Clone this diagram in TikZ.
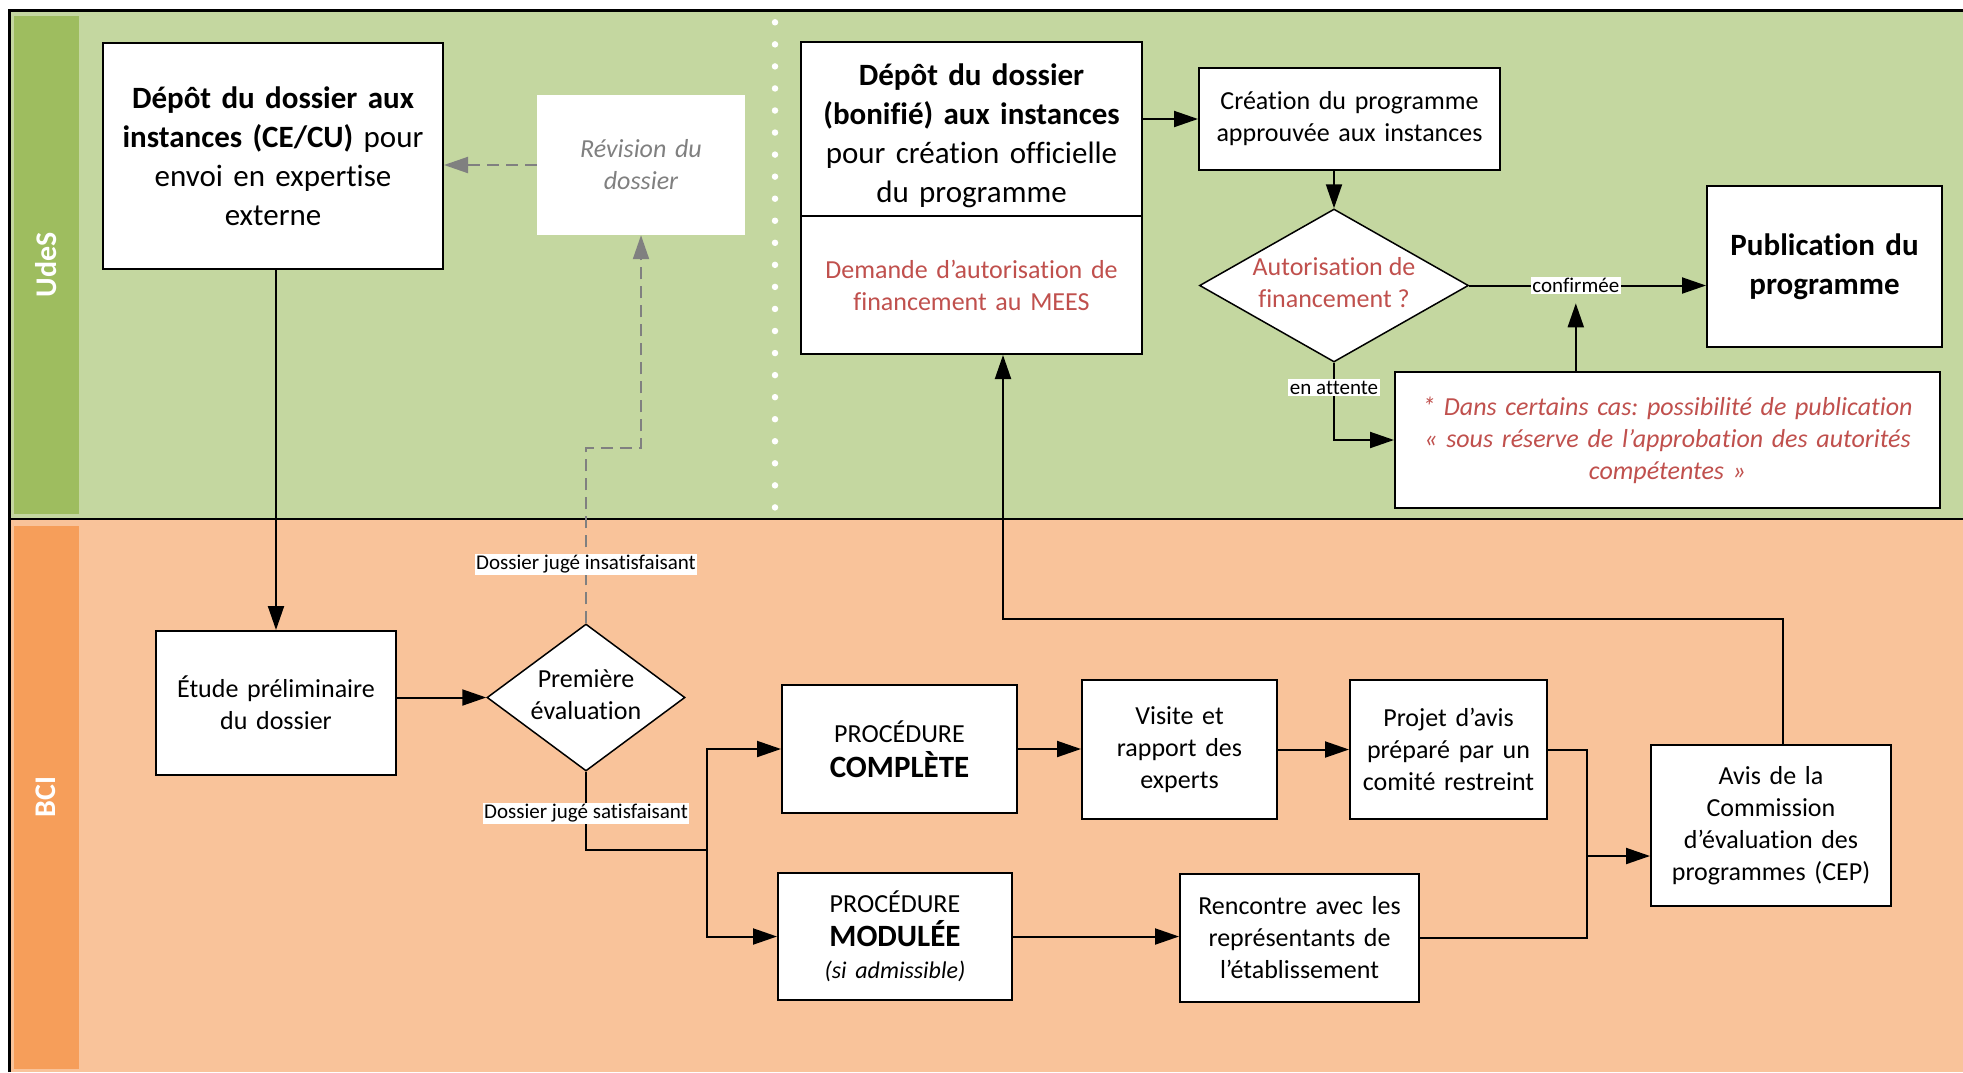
\documentclass[tikz,border=0pt]{standalone}
\usepackage{fontspec}
\setmainfont{Carlito}[Ligatures=NoCommon]
\usetikzlibrary{arrows.meta,shapes.geometric,calc}
\definecolor{lgreen}{RGB}{196,215,160}
\definecolor{dgreen}{RGB}{158,189,95}
\definecolor{lorange}{RGB}{249,195,154}
\definecolor{dorange}{RGB}{246,158,90}
\definecolor{redtxt}{RGB}{192,80,77}
\definecolor{graytxt}{RGB}{128,128,128}
\newcommand\fsbig{\fontsize{31}{39}\selectfont}
\newcommand\fsmed{\fontsize{26}{32}\selectfont}
\newcommand\fssmall{\fontsize{21}{24}\selectfont}
\newcommand\mytab[1]{\makebox[0pt]{\begin{tabular}{@{}c@{}}#1\end{tabular}}}
\frenchspacing
\begin{document}
\begin{tikzpicture}[x=1pt,y=-1pt,
  box/.style={draw, fill=white, line width=2pt, align=center, inner sep=0pt, font=\fsmed},
  dia/.style={draw, fill=white, diamond, aspect=1, inner sep=0pt, line width=1.5pt, font=\fsmed},
  arr/.style={line width=2pt, -{Triangle[length=24pt,width=16pt]}},
  plain/.style={line width=2pt},
  dasharr/.style={graytxt, line width=2pt, dash pattern=on 12pt off 7pt, -{Triangle[length=24pt,width=16pt]}},
  lbl/.style={fill=white, text=black, inner sep=1.5pt, font=\fssmall},
  lane/.style={text=white, rotate=90, font=\fontsize{30}{32}\selectfont\bfseries}]
\useasboundingbox (0,0) rectangle (1963,1072);
\fill[white] (0,0) rectangle (1963,1072);
\fill[lgreen] (9,10) rectangle (1963,519);
\fill[lorange] (9,519) rectangle (1963,1072);
\fill[dgreen] (14,16) rectangle (79,514);
\fill[dorange] (14,526) rectangle (79,1069);
\draw[line width=3pt] (9,1072) -- (9,10) -- (1963,10);
\draw[line width=2.5pt] (9,519) -- (1963,519);
\draw[white, line width=6.5pt, line cap=round, dash pattern=on 0pt off 22.05pt] (775,22.3) -- (775,510);
\node[lane] (udes) at (46,265) {UdeS};
\node[lane] (bci) at (46,797) {BCI};

% UdeS lane
\node[box, font=\fsbig, minimum width=340pt, minimum height=226pt, text width=330pt] (dep1) at (273,156)
  {\textbf{Dépôt du dossier aux}\\\textbf{instances (CE/CU)} pour\\envoi en expertise\\externe};
\node[fill=white, inner sep=0pt, minimum width=208pt, minimum height=140pt, text width=200pt, align=center, text=graytxt, font=\fsmed\itshape] (rev) at (641,165)
  {Révision du\\dossier};
\node[box, font=\fsbig, minimum width=341pt, minimum height=174pt, text width=335pt] (dep2top) at (971.5,129)
  {\rule{0pt}{35pt}\textbf{Dépôt du dossier}\\\textbf{(bonifié) aux instances}\\pour création officielle\\du programme};
\node[box, text=redtxt, minimum width=341pt, minimum height=138pt, text width=335pt] (dep2bot) at (971.5,285)
  {Demande d’autorisation de\\financement au MEES};
\node[box, minimum width=301pt, minimum height=102pt, text width=295pt] (crea) at (1349.5,119)
  {Création du programme\\approuvée aux instances};
\node[dia, text=redtxt, minimum width=269pt, minimum height=153pt] (aut) at (1334,285.5)
  {\mytab{Autorisation de\\financement ?}};
\node[box, font=\fsbig\bfseries, minimum width=235pt, minimum height=161pt, text width=228pt] (pub) at (1824.5,266.5)
  {Publication du\\programme};
\node[box, text=redtxt, font=\fsmed\itshape, minimum width=545pt, minimum height=136pt, text width=535pt] (note) at (1667.5,440)
  {* Dans certains cas: possibilité de publication\\« sous réserve de l’approbation des autorités\\compétentes »};

% BCI lane
\node[box, minimum width=240pt, minimum height=144pt, text width=232pt] (etude) at (276,703)
  {Étude préliminaire\\du dossier};
\node[dia, minimum width=198pt, minimum height=147pt] (prem) at (586,697.5)
  {\mytab{Première\\évaluation}};
\node[box, minimum width=235pt, minimum height=128pt, text width=228pt] (comp) at (899.5,749)
  {PROCÉDURE\\[3pt]{\fontsize{31}{34}\selectfont\bfseries COMPLÈTE}};
\node[box, minimum width=234pt, minimum height=127pt, text width=228pt] (mod) at (895,936.5)
  {PROCÉDURE\\[2pt]{\fontsize{31}{34}\selectfont\bfseries MODULÉE}\\{\fontsize{24}{30}\selectfont\itshape (si admissible)}};
\node[box, minimum width=195pt, minimum height=139pt, text width=188pt] (visite) at (1179.5,749.5)
  {Visite et\\rapport des\\experts};
\node[box, minimum width=197pt, minimum height=139pt, text width=192pt] (projet) at (1448.5,749.5)
  {Projet d’avis\\préparé par un\\comité restreint};
\node[box, minimum width=239pt, minimum height=128pt, text width=232pt] (ren) at (1299.5,938)
  {Rencontre avec les\\représentants de\\l’établissement};
\node[box, minimum width=240pt, minimum height=161pt, text width=232pt] (avis) at (1771,825.5)
  {Avis de la\\Commission\\d’évaluation des\\programmes (CEP)};

\coordinate (bend1) at (586,448);
\coordinate (split) at (707,850);
\coordinate (merge) at (1587,856);
\coordinate (up1) at (1003,619);

% connectors
\draw[arr] (etude.north |- dep1.south) -- (etude.north);
\draw[dasharr] (rev.west) -- (rev.west -| dep1.east);
\draw[dasharr] (prem.north) -- node[lbl,pos=0.335]{Dossier jugé insatisfaisant} (bend1) -| (rev.south);
\draw[arr] (etude.east |- prem.west) -- (prem.west);
\draw[plain] (prem.south) -- node[lbl,pos=0.53]{Dossier jugé satisfaisant} (prem.south |- split) -- (split);
\draw[arr] (split) |- (comp.west);
\draw[arr] (split) |- (mod.west);
\draw[arr] (comp.east) -- (comp.east -| visite.west);
\draw[arr] (visite.east) -- (projet.west);
\draw[plain] (projet.east) -| (merge);
\draw[plain] (ren.east) -| (merge);
\draw[arr] (merge) -- (merge -| avis.west);
\draw[arr] (mod.east) -- (mod.east -| ren.west);
\draw[arr] ([xshift=12pt]avis.north) |- (up1) -- (up1 |- dep2bot.south);
\draw[arr] (dep2top.east |- crea.west) -- (crea.west);
\draw[arr] (aut.north |- crea.south) -- (aut.north);
\draw[arr] (aut.east) -- node[lbl,pos=0.45] (conf) {confirmée} (aut.east -| pub.west);
\draw[arr] (aut.south) -- node[lbl,pos=0.32]{en attente} (aut.south |- note.west) -- (note.west);
\draw[arr] (note.north -| conf.south) -- ([yshift=-8pt]conf.south);
\end{tikzpicture}
\end{document}
